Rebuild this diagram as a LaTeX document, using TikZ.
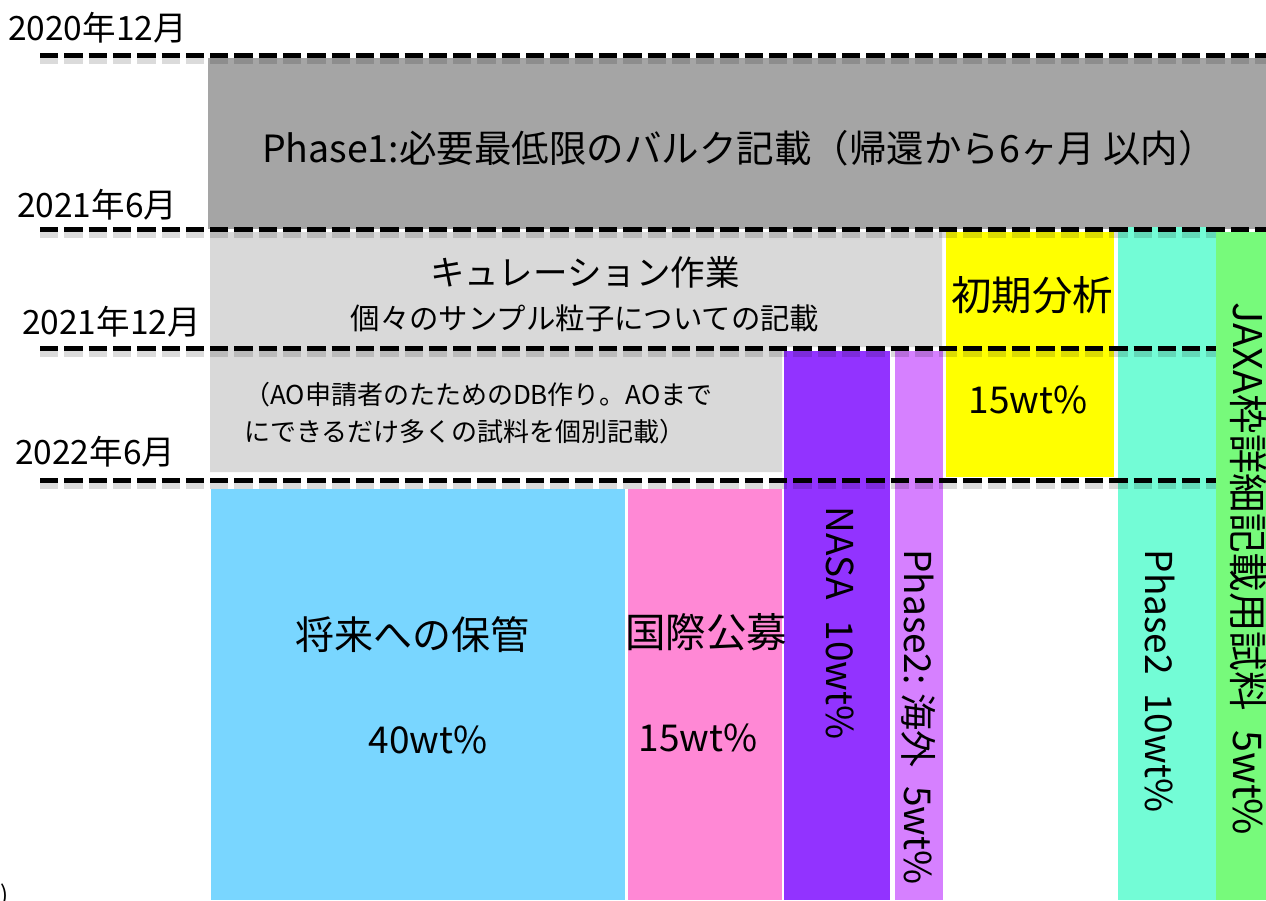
\documentclass[tikz,border=0pt]{standalone}
\usepackage{fontspec}
\setmainfont{Noto Sans CJK JP}
\definecolor{gdark}{HTML}{A5A5A5}
\definecolor{glight}{HTML}{D9D9D9}
\definecolor{cblue}{HTML}{79D6FF}
\definecolor{cpink}{HTML}{FF88D5}
\definecolor{cpurple}{HTML}{9233FF}
\definecolor{clilac}{HTML}{D680FF}
\definecolor{cyellow}{HTML}{FFFF00}
\definecolor{cteal}{HTML}{73FCD6}
\definecolor{cgreen}{HTML}{77FA7B}
\begin{document}
\begin{tikzpicture}[x=1pt,y=-1pt,
  lbl/.style={inner sep=0pt, text=black},
  datelbl/.style={lbl, font=\fontsize{33.5}{35}\selectfont},
  biglbl/.style={lbl, font=\fontsize{40.5}{43}\selectfont},
  pctlbl/.style={lbl, font=\fontsize{37}{40}\selectfont},
  vlbl/.style={lbl, font=\fontsize{37}{40}\selectfont, rotate=-90},
  dline/.style={line width=5pt, dash pattern=on 18.3pt off 6pt},
  dshadow/.style={line width=8pt, draw=black, opacity=0.14, dash pattern=on 18.3pt off 6pt}
]
\useasboundingbox (0,0) rectangle (1266,900);
% boxes
\fill[gdark] (208,58) rectangle (1266,229);
\fill[glight] (210,232) -- (942,232) -- (942,347) -- (782,347) -- (782,472) -- (210,472) -- cycle;
\fill[cyellow] (946,232) rectangle (1114,477);
\fill[cteal] (1118,227) rectangle (1216,900);
\fill[cpurple] (784,351) rectangle (890,900);
\fill[clilac] (895,351) rectangle (943,900);
\fill[cblue] (211,489) rectangle (625,900);
\fill[cpink] (628,489) rectangle (782,900);
% dashed time lines
\foreach \yy/\nm in {55/t1,229/t2,348/t3,480/t4}{
  \coordinate (\nm a) at (40,\yy);
  \coordinate (\nm b) at (1266,\yy);
  \draw[dshadow] ([yshift=-5pt]\nm a) -- ([yshift=-5pt]\nm b);
  \draw[dline] (\nm a) -- (\nm b);
}
\fill[cgreen] (1216,232) rectangle (1266,900);
% date labels
\node[datelbl, anchor=west] (d1) at (8,28) {2020年12月};
\node[datelbl, anchor=west] (d2) at (17,205) {2021年6月};
\node[datelbl, anchor=west] (d3) at (22,322) {2021年12月};
\node[datelbl, anchor=west] (d4) at (15,452) {2022年6月};
% texts
\node[lbl, font=\fontsize{37.5}{40}\selectfont] (p1) at (739,148) {Phase1:必要最低限のバルク記載（帰還から6ヶ月 以内）};
\node[lbl, font=\fontsize{34.5}{38}\selectfont] (cur) at (585,272) {キュレーション作業};
\node[lbl, font=\fontsize{29.4}{32}\selectfont] (cur2) at (585,318) {個々のサンプル粒子についての記載};
\node[lbl, font=\fontsize{26}{37}\selectfont, anchor=north west, align=left] (ao) at (244,382) {（AO申請者のたためのDB作り。AOまで\\にできるだけ多くの試料を個別記載）};
\node[biglbl] (ini) at (1032,295) {初期分析};
\node[pctlbl] (ini2) at (1028,400) {15wt\%};
\node[lbl, font=\fontsize{39}{42}\selectfont] (fut) at (412,635) {将来への保管};
\node[pctlbl] (fut2) at (428,740) {40wt\%};
\node[biglbl] (intl) at (706,632) {国際公募};
\node[pctlbl] (intl2) at (698,738) {15wt\%};
\node[vlbl] (nasa) at (840,623) {NASA\hspace{0.55em}10wt\%};
\node[vlbl] (ov) at (919,717) {Phase2:\hspace{0.25em}海外\hspace{0.5em}5wt\%};
\node[vlbl] (ph2) at (1160,681) {Phase2\hspace{0.5em}10wt\%};
\node[vlbl, font=\fontsize{39.5}{42}\selectfont] (jaxa) at (1248,569) {JAXA枠詳細記載用試料\hspace{0.5em}5wt\%};
\node[lbl, font=\fontsize{24}{26}\selectfont, anchor=north west] (frag) at (0,884) {)};
\end{tikzpicture}
\end{document}
